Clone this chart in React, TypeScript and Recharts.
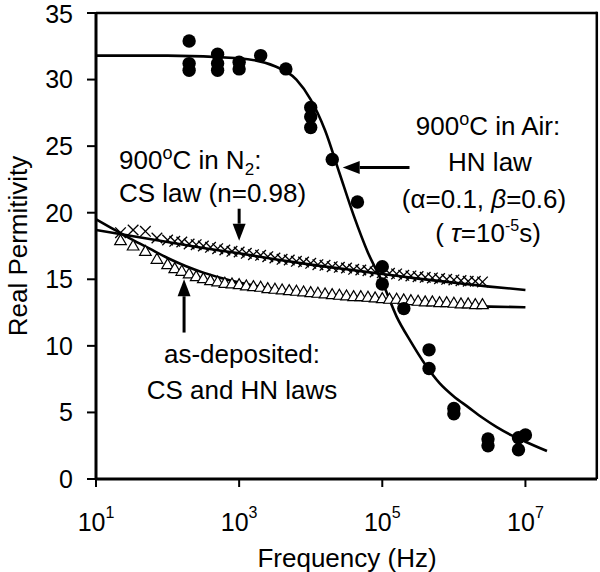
import React from "react";
import {
  ComposedChart,
  Line,
  Scatter,
  XAxis,
  YAxis,
  ReferenceLine,
  Customized,
} from "recharts";

// 900 C in air: measured points (Hz, permittivity)
const airFreq = [200, 200, 200, 500, 500, 500, 1000, 1000, 2000, 4500, 10000, 10000, 10000, 20000, 45000, 100000, 100000, 200000, 450000, 450000, 1000000, 1000000, 3000000, 3000000, 8000000, 8000000, 10000000];
const airPerm = [32.9, 31.2, 30.7, 31.9, 31.2, 30.7, 31.3, 30.8, 31.8, 30.8, 27.9, 27.2, 26.4, 24.0, 20.8, 15.95, 14.65, 12.8, 9.7, 8.3, 5.3, 4.9, 3.0, 2.5, 3.1, 2.2, 3.3];

// HN law fit for the air sample
const airFitFreq = [10, 100, 1000, 3162, 6310, 10000, 15850, 25120, 39810, 63100, 100000, 158500, 251200, 398100, 631000, 1000000, 1585000, 2512000, 3981000, 6310000, 10000000, 20000000];
const airFitPerm = [31.8, 31.8, 31.6, 31.0, 30.0, 28.5, 26.2, 23.0, 19.8, 17.0, 14.8, 12.2, 10.3, 8.6, 7.2, 6.2, 5.4, 4.6, 3.9, 3.3, 2.8, 2.1];

// frequency sweep shared by the N2 and as-deposited samples
const sweepFreq = [22, 33, 49, 71, 100, 126, 158, 200, 251, 316, 398, 501, 631, 794, 1000, 1259, 1585, 1995, 2512, 3162, 3981, 5012, 6310, 7943, 10000, 12589, 15849, 19953, 25119, 31623, 39811, 50119, 63096, 79433, 100000, 125893, 158489, 199526, 251189, 316228, 398107, 501187, 630957, 794328, 1000000, 1258925, 1584893, 1995262, 2511886];
const n2Perm = [18.5, 18.7, 18.6, 18.1, 17.95, 17.85, 17.8, 17.65, 17.6, 17.5, 17.4, 17.3, 17.2, 17.1, 17.05, 16.95, 16.85, 16.8, 16.7, 16.6, 16.5, 16.45, 16.35, 16.3, 16.2, 16.1, 16.05, 15.95, 15.9, 15.85, 15.75, 15.7, 15.65, 15.55, 15.5, 15.45, 15.4, 15.3, 15.25, 15.2, 15.15, 15.1, 15.05, 15.0, 14.95, 14.9, 14.85, 14.85, 14.8];
const depPerm = [17.9, 17.5, 17.1, 16.5, 16.1, 15.8, 15.6, 15.4, 15.2, 15.05, 14.9, 14.8, 14.7, 14.65, 14.6, 14.5, 14.45, 14.4, 14.3, 14.25, 14.2, 14.15, 14.1, 14.05, 14.0, 13.95, 13.9, 13.85, 13.8, 13.75, 13.7, 13.7, 13.65, 13.6, 13.55, 13.5, 13.5, 13.45, 13.4, 13.35, 13.3, 13.3, 13.25, 13.25, 13.2, 13.15, 13.15, 13.1, 13.1];

// CS law fit (N2)
const n2FitFreq = [10, 31.6, 100, 316, 1000, 3162, 10000, 31623, 100000, 316228, 1000000, 3162278, 10000000];
const n2FitPerm = [18.7, 18.25, 17.8, 17.35, 16.95, 16.5, 16.1, 15.75, 15.4, 15.05, 14.75, 14.45, 14.2];

// CS + HN fit (as-deposited)
const depFitFreq = [10, 15.8, 22.4, 31.6, 56.2, 100, 178, 316, 562, 1000, 3162, 10000, 31623, 100000, 316228, 1000000, 3162278, 10000000];
const depFitPerm = [19.5, 18.9, 18.45, 18.0, 17.3, 16.6, 16.0, 15.5, 15.1, 14.75, 14.25, 13.85, 13.55, 13.35, 13.2, 13.05, 12.95, 12.9];

const xTicks = [10, 1000, 100000, 10000000];
const yTicks = [0, 5, 10, 15, 20, 25, 30, 35];

const pts = (fs: number[], vs: number[]) => fs.map((f, i) => ({ f, v: vs[i] }));

const FONT = "'Liberation Sans', Arial, sans-serif";

const Dot = (p: any) => <circle cx={p.cx} cy={p.cy} r={6.7} fill="#000" />;

const Cross = (p: any) => {
  const s = 5.3;
  return (
    <g stroke="#000" strokeWidth={1.3}>
      <line x1={p.cx - s} y1={p.cy - s} x2={p.cx + s} y2={p.cy + s} />
      <line x1={p.cx - s} y1={p.cy + s} x2={p.cx + s} y2={p.cy - s} />
    </g>
  );
};

const Tri = (p: any) => {
  const w = 5.8;
  const h = 10;
  return (
    <polygon
      points={`${p.cx},${p.cy - h * 0.6} ${p.cx - w},${p.cy + h * 0.4} ${p.cx + w},${p.cy + h * 0.4}`}
      fill="#fff"
      stroke="#000"
      strokeWidth={1.2}
    />
  );
};

// arrow: segment drawn from tail (first point) to tip (second point)
const Arrow = (p: any) => {
  const { x1, y1, x2, y2 } = p;
  const dx = x2 - x1;
  const dy = y2 - y1;
  const len = Math.sqrt(dx * dx + dy * dy) || 1;
  const ux = dx / len;
  const uy = dy / len;
  const hl = 17;
  const hw = 6.5;
  const bx = x2 - ux * hl;
  const by = y2 - uy * hl;
  return (
    <g>
      <line x1={x1} y1={y1} x2={bx} y2={by} stroke="#000" strokeWidth={3} />
      <polygon
        points={`${x2},${y2} ${bx - uy * hw},${by + ux * hw} ${bx + uy * hw},${by - ux * hw}`}
        fill="#000"
      />
    </g>
  );
};

const XTick = (p: any) => {
  const exp = Math.round(Math.log10(p.payload.value));
  return (
    <text x={p.x} y={p.y + 42} textAnchor="middle" fontFamily={FONT} fontSize={25} fill="#000">
      <tspan>10</tspan>
      <tspan dy={-13} fontSize={16}>{exp}</tspan>
    </text>
  );
};

const Notes = () => (
  <g fontFamily={FONT} fill="#000" fontSize={26}>
    {/* right-hand side of the plot frame */}
    <line x1={596.8} y1={11.8} x2={596.8} y2={479} stroke="#000" strokeWidth={2.5} />

    <text x={119} y={169}>
      900<tspan dy={-10} fontSize={18}>o</tspan>
      <tspan dy={10}>C in N</tspan>
      <tspan dy={6} fontSize={17}>2</tspan>
      <tspan dy={-6}>:</tspan>
    </text>
    <text x={119} y={202}>CS law (n=0.98)</text>

    <text x={488} y={135} textAnchor="middle">
      900<tspan dy={-10} fontSize={18}>o</tspan>
      <tspan dy={10}>C in Air:</tspan>
    </text>
    <text x={490} y={171} textAnchor="middle">HN law</text>
    <text x={484} y={208} textAnchor="middle">
      (α=0.1, <tspan fontStyle="italic">β</tspan>=0.6)
    </text>
    <text x={488} y={242} textAnchor="middle">
      ( <tspan fontStyle="italic">τ</tspan>=10
      <tspan dy={-11} fontSize={16}>-5</tspan>
      <tspan dy={11}>s)</tspan>
    </text>

    <text x={242} y={363} textAnchor="middle">as-deposited:</text>
    <text x={242} y={399} textAnchor="middle">CS and HN laws</text>

    <text x={347} y={567} textAnchor="middle">Frequency (Hz)</text>
    <text x={27} y={246} textAnchor="middle" transform="rotate(-90 27 246)">
      Real Permitivity
    </text>
  </g>
);

export default function App() {
  const axisStyle = { stroke: "#000", strokeWidth: 3 };
  return (
    <div style={{ position: "absolute", left: 0, top: 0, background: "#fff" }}>
      <ComposedChart width={600} height={572} margin={{ top: 13, right: 3, bottom: 0, left: 0 }}>
        <XAxis
          dataKey="f"
          type="number"
          scale="log"
          domain={[10, 100000000]}
          ticks={xTicks}
          allowDataOverflow
          height={93}
          tickSize={8}
          tickMargin={2}
          axisLine={axisStyle}
          tickLine={{ stroke: "#000", strokeWidth: 2 }}
          tick={<XTick />}
        />
        <YAxis
          dataKey="v"
          type="number"
          domain={[0, 35]}
          ticks={yTicks}
          width={96}
          tickSize={9}
          tickMargin={14}
          axisLine={axisStyle}
          tickLine={{ stroke: "#000", strokeWidth: 2 }}
          tick={{ fill: "#000", fontSize: 25, fontFamily: FONT }}
        />
        <ReferenceLine y={35} stroke="#000" strokeWidth={2.5} />

        <Scatter data={pts(sweepFreq, depPerm)} dataKey="v" shape={Tri} isAnimationActive={false} />
        <Scatter data={pts(sweepFreq, n2Perm)} dataKey="v" shape={Cross} isAnimationActive={false} />
        <Scatter data={pts(airFreq, airPerm)} dataKey="v" shape={Dot} isAnimationActive={false} />

        <Line data={pts(n2FitFreq, n2FitPerm)} dataKey="v" type="monotone" stroke="#000" strokeWidth={2.6} dot={false} isAnimationActive={false} />
        <Line data={pts(depFitFreq, depFitPerm)} dataKey="v" type="monotone" stroke="#000" strokeWidth={2.6} dot={false} isAnimationActive={false} />
        <Line data={pts(airFitFreq, airFitPerm)} dataKey="v" type="monotone" stroke="#000" strokeWidth={2.6} dot={false} isAnimationActive={false} />

        <ReferenceLine segment={[{ x: 1000, y: 20.3 }, { x: 1000, y: 17.9 }]} shape={Arrow} />
        <ReferenceLine segment={[{ x: 170, y: 11.0 }, { x: 170, y: 15.0 }]} shape={Arrow} />
        <ReferenceLine segment={[{ x: 240000, y: 23.4 }, { x: 28000, y: 23.4 }]} shape={Arrow} />

        <Customized component={<Notes />} />
      </ComposedChart>
    </div>
  );
}
